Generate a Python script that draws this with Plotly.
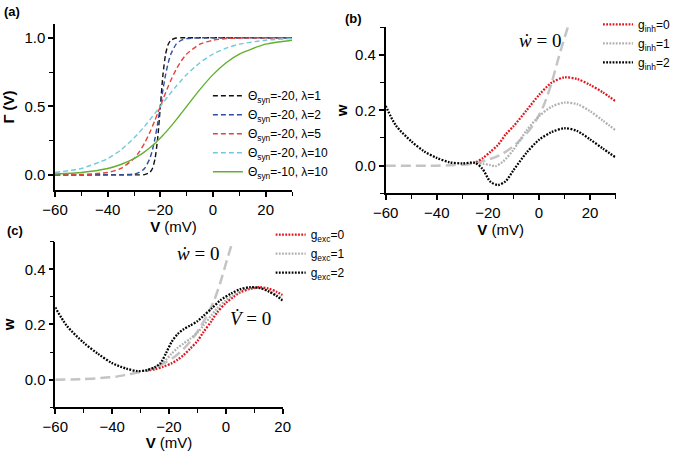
import plotly.graph_objects as go

# ---------------- Panel (a): synaptic activation Gamma(V) ----------------
A_V = [-60, -50, -40, -35, -30, -28, -26, -24, -23, -22, -21, -20, -19, -18, -17, -16, -14, -12, -10, -5, 0, 5, 10, 20, 30]
A_L1 = [0, 0, 0, 0, 0.0001, 0.0003, 0.0025, 0.018, 0.047, 0.119, 0.269, 0.5, 0.731, 0.881, 0.953, 0.982, 0.9975, 0.9997, 1, 1, 1, 1, 1, 1, 1]
A_L2 = [0, 0, 0.0001, 0.0006, 0.0067, 0.018, 0.047, 0.119, 0.182, 0.269, 0.378, 0.5, 0.622, 0.731, 0.818, 0.881, 0.953, 0.982, 0.9933, 0.9994, 1, 1, 1, 1, 1]
A_L5 = [0.0003, 0.0025, 0.018, 0.047, 0.119, 0.168, 0.231, 0.31, 0.354, 0.401, 0.45, 0.5, 0.55, 0.599, 0.646, 0.69, 0.769, 0.832, 0.881, 0.953, 0.982, 0.9933, 0.9975, 0.9997, 1]
A_L10 = [0.018, 0.047, 0.119, 0.182, 0.269, 0.31, 0.354, 0.401, 0.426, 0.45, 0.475, 0.5, 0.525, 0.55, 0.574, 0.599, 0.646, 0.69, 0.731, 0.818, 0.881, 0.924, 0.953, 0.982, 0.9933]
A_T10 = [0.0067, 0.018, 0.047, 0.076, 0.119, 0.142, 0.168, 0.198, 0.214, 0.231, 0.25, 0.269, 0.289, 0.31, 0.332, 0.354, 0.401, 0.45, 0.5, 0.622, 0.731, 0.818, 0.881, 0.953, 0.982]
A_NAMES = ["Θ<sub>syn</sub>=-20, λ=1", "Θ<sub>syn</sub>=-20, λ=2", "Θ<sub>syn</sub>=-20, λ=5",
           "Θ<sub>syn</sub>=-20, λ=10", "Θ<sub>syn</sub>=-10, λ=10"]

# ---------------- Panel (b): nullclines with inhibition ----------------
B_V_G2 = [-60, -56, -50, -45, -40, -35, -30, -25, -22, -19, -16, -13, -10, -5, 0, 5, 10, 15, 20, 25, 30]
B_W_G2 = [0.216, 0.145, 0.088, 0.052, 0.028, 0.012, 0.008, 0.010, -0.013, -0.058, -0.070, -0.056, -0.017, 0.045, 0.093, 0.121, 0.135, 0.125, 0.095, 0.062, 0.030]
B_V_G0 = [-27, -25, -22, -19, -16, -13, -10, -5, 0, 5, 10, 15, 20, 25, 30]
B_W_G0 = [0.009, 0.011, 0.027, 0.050, 0.075, 0.113, 0.142, 0.198, 0.255, 0.300, 0.319, 0.313, 0.292, 0.265, 0.233]
B_V_G1 = [-27, -25, -22, -19, -17, -14, -10, -5, 0, 5, 10, 15, 20, 25, 30]
B_W_G1 = [0.009, 0.010, 0.007, 0.002, -0.002, 0.015, 0.057, 0.125, 0.178, 0.213, 0.228, 0.222, 0.197, 0.163, 0.128]
B_V_WN = [-60, -40, -35, -30, -27, -24, -20.5, -17, -14, -10, -7.4, -4, -1, 2, 5, 8, 11.3]
B_W_WN = [0, 0, 0.001, 0.003, 0.006, 0.012, 0.02, 0.031, 0.044, 0.07, 0.092, 0.125, 0.165, 0.22, 0.30, 0.40, 0.5]
B_NAMES = ["g<sub>inh</sub>=0", "g<sub>inh</sub>=1", "g<sub>inh</sub>=2"]

# ---------------- Panel (c): nullclines with excitation ----------------
C_V_G2 = [-60, -56, -50, -45, -40, -35, -31, -28, -25, -23, -21, -19, -17, -15, -12.6, -10, -8, -5, -2, 2, 5, 8.5, 12, 15, 18, 20]
C_W_G2 = [0.262, 0.196, 0.134, 0.094, 0.060, 0.040, 0.031, 0.034, 0.045, 0.060, 0.097, 0.138, 0.165, 0.182, 0.196, 0.212, 0.230, 0.258, 0.287, 0.313, 0.328, 0.335, 0.332, 0.320, 0.302, 0.287]
C_V_G0 = [-28, -25, -22, -19, -17, -15, -12.6, -10, -7.9, -5, -3.2, 0, 2.7, 5, 8.5, 12, 15, 18, 20]
C_W_G0 = [0.032, 0.038, 0.047, 0.060, 0.072, 0.088, 0.112, 0.140, 0.172, 0.213, 0.242, 0.278, 0.300, 0.316, 0.329, 0.335, 0.330, 0.318, 0.307]
C_V_G1 = [-28, -25, -22, -19, -17, -15, -12.6, -10, -7.9, -5, -3.2, 0, 2.7, 5, 8.5, 12, 15, 18, 20]
C_W_G1 = [0.033, 0.045, 0.063, 0.095, 0.115, 0.130, 0.148, 0.170, 0.196, 0.234, 0.257, 0.288, 0.307, 0.322, 0.332, 0.332, 0.322, 0.306, 0.295]
C_V_WN = [-60, -50, -44, -38, -35, -32, -29, -25, -22, -18, -15, -12, -9, -6, -4, -2, 0, 2.2]
C_W_WN = [0, 0.002, 0.006, 0.012, 0.018, 0.024, 0.030, 0.043, 0.058, 0.083, 0.110, 0.145, 0.190, 0.245, 0.290, 0.350, 0.420, 0.495]
C_NAMES = ["g<sub>exc</sub>=0", "g<sub>exc</sub>=1", "g<sub>exc</sub>=2"]

SANS = "Arial, Liberation Sans, sans-serif"
SERIF = "Times New Roman, Liberation Serif, serif"
DOT = "1.8px,1.4px"
DOT_W = 2.3
WN_STYLE = dict(color="#c4c4c4", width=2.5, dash="10px,5px")

fig = go.Figure()

# panel (a)
a_colors = ["#111111", "#2f4f9f", "#e2433c", "#72c9dc", "#62b030"]
a_series = [A_L1, A_L2, A_L5, A_L10, A_T10]
for i, (ys, col, nm) in enumerate(zip(a_series, a_colors, A_NAMES)):
    fig.add_trace(go.Scatter(
        x=A_V, y=ys, mode="lines", name=nm, xaxis="x", yaxis="y", legend="legend",
        line=dict(color=col, width=1.4, dash=("solid" if i == 4 else "5px,3px"), shape="spline", smoothing=0.6)))

# panel (b)
fig.add_trace(go.Scatter(x=B_V_WN, y=B_W_WN, mode="lines", showlegend=False, xaxis="x2", yaxis="y2",
                         line=dict(shape="spline", smoothing=0.6, **WN_STYLE)))
for vx, wy, col, nm in [(B_V_G0, B_W_G0, "#e3141c", B_NAMES[0]),
                        (B_V_G1, B_W_G1, "#b0b0b0", B_NAMES[1]),
                        (B_V_G2, B_W_G2, "#000000", B_NAMES[2])]:
    fig.add_trace(go.Scatter(x=vx, y=wy, mode="lines", name=nm, xaxis="x2", yaxis="y2", legend="legend2",
                             line=dict(color=col, width=DOT_W, dash=DOT, shape="spline", smoothing=0.8)))

# panel (c)
fig.add_trace(go.Scatter(x=C_V_WN, y=C_W_WN, mode="lines", showlegend=False, xaxis="x3", yaxis="y3",
                         line=dict(shape="spline", smoothing=0.6, **WN_STYLE)))
for vx, wy, col, nm in [(C_V_G0, C_W_G0, "#e3141c", C_NAMES[0]),
                        (C_V_G1, C_W_G1, "#b0b0b0", C_NAMES[1]),
                        (C_V_G2, C_W_G2, "#000000", C_NAMES[2])]:
    fig.add_trace(go.Scatter(x=vx, y=wy, mode="lines", name=nm, xaxis="x3", yaxis="y3", legend="legend3",
                             line=dict(color=col, width=DOT_W, dash=DOT, shape="spline", smoothing=0.8)))


def xax(domain, rng, anchor, standoff=4):
    return dict(domain=domain, range=rng, anchor=anchor, automargin=False, showline=True, linecolor="black", linewidth=1.5,
                ticks="outside", ticklen=5, tickwidth=1.5, tickcolor="black", dtick=20, tick0=0,
                showgrid=False, zeroline=False, tickfont=dict(size=15, color="black"),
                minor=dict(ticks="outside", ticklen=4, tickwidth=1.2, tickcolor="black", dtick=10, showgrid=False),
                title=dict(text="<b>V</b> (mV)", font=dict(size=15, color="black"), standoff=standoff))


def yax(domain, rng, anchor, title, dtick, mdtick, standoff=6):
    return dict(domain=domain, range=rng, anchor=anchor, automargin=False, showline=True, linecolor="black", linewidth=1.5,
                ticks="outside", ticklen=5, tickwidth=1.5, tickcolor="black", dtick=dtick, tick0=0,
                tickformat=".1f", showgrid=False, zeroline=False, tickfont=dict(size=15, color="black"),
                minor=dict(ticks="outside", ticklen=4, tickwidth=1.2, tickcolor="black", dtick=mdtick, showgrid=False),
                title=dict(text=title, font=dict(size=15, color="black"), standoff=standoff))


leg_common = dict(bgcolor="rgba(0,0,0,0)", borderwidth=0, font=dict(size=12, family=SANS, color="black"),
                  itemwidth=30, tracegroupgap=0, yanchor="top")

fig.update_layout(
    width=675, height=451,
    margin=dict(l=0, r=0, t=0, b=0),
    paper_bgcolor="white", plot_bgcolor="white",
    font=dict(family=SANS, color="black"),
    hovermode=False,
    xaxis=xax([0.0815, 0.4326], [-60, 30], "y"),
    yaxis=yax([0.5787, 0.9468], [-0.11, 1.1], "x", "<b>Γ (V)</b>", 0.5, 0.25, standoff=10),
    xaxis2=xax([0.5714, 0.9119], [-60, 30], "y2"),
    yaxis2=yax([0.5714, 0.9395], [-0.1, 0.5], "x2", "<b>w</b>", 0.2, 0.1, standoff=4),
    xaxis3=xax([0.0819, 0.4188], [-60, 20], "y3"),
    yaxis3=yax([0.0969, 0.4641], [-0.1, 0.5], "x3", "<b>w</b>", 0.2, 0.1, standoff=6),
    legend=dict(x=0.308, y=0.820, xanchor="left", **leg_common),
    legend2=dict(x=1.0, y=0.978, xanchor="right", **leg_common),
    legend3=dict(x=0.401, y=0.512, xanchor="left", **leg_common),
    showlegend=True,
)

# panel labels
for txt, px, py in [("(a)", 2, 2), ("(b)", 343, 9), ("(c)", 5, 221)]:
    fig.add_annotation(text=f"<b>{txt}</b>", x=px / 675, y=1 - py / 451, xref="paper", yref="paper",
                       xanchor="left", yanchor="top", showarrow=False, font=dict(size=13, family=SANS, color="black"))

# nullcline labels
for txt, xr, yr, xv, yv in [("<i>ẇ</i> = 0", "x2", "y2", 0.4, 0.452),
                            ("<i>V\u0307</i> = 0", "x2", "y2", 38.4, 0.248),
                            ("<i>ẇ</i> = 0", "x3", "y3", -9.8, 0.456),
                            ("<i>V\u0307</i> = 0", "x3", "y3", 8.5, 0.222)]:
    fig.add_annotation(text=txt, x=xv, y=yv, xref=xr, yref=yr, showarrow=False,
                       font=dict(size=19, family=SERIF, color="black"))

fig.write_html("out.html", config={"displayModeBar": False},
               post_script="document.body.style.margin='0';")
